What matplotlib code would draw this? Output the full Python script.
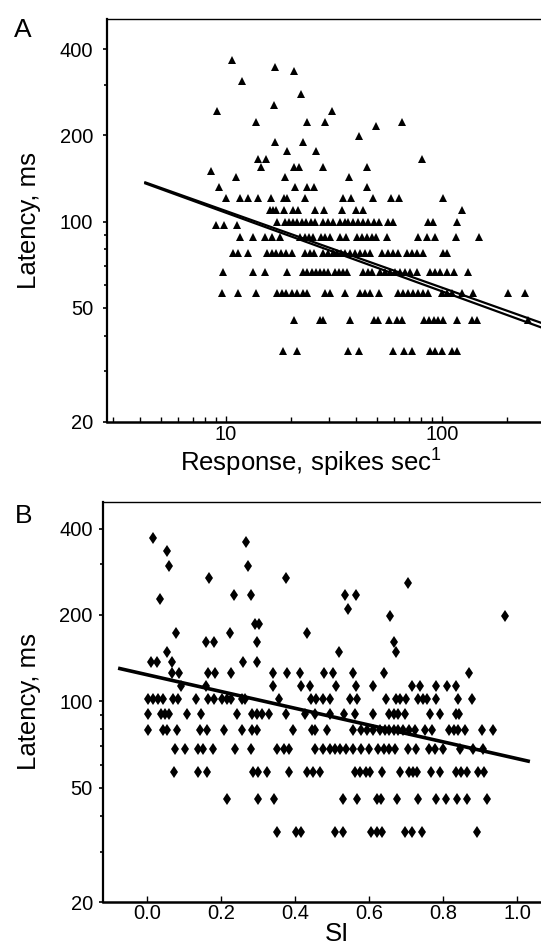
import numpy as np
import matplotlib
matplotlib.use('Agg')
import matplotlib.pyplot as plt
from matplotlib.ticker import FixedLocator, NullFormatter, LogLocator, FixedFormatter

plt.rcParams['font.family'] = ['Liberation Sans', 'DejaVu Sans']
plt.rcParams['mathtext.fontset'] = 'custom'
plt.rcParams['mathtext.rm'] = 'Liberation Sans'

# ---- panel A: latency (ms) rows and the responses (spikes/s) on each row
a_lat = [366, 348, 336, 311, 278, 255, 244, 222, 215, 199, 189, 177, 166, 155,
         150, 143, 132, 121, 110, 100, 97, 88.6, 77.5, 66.9, 56.2, 45.3, 35.4]
a_resp = [
    [10.7], [16.9], [20.6], [11.8], [22.2], [16.7], [9.1, 30.9],
    [13.8, 23.7, 28.7, 65.3], [49.3], [41.3], [16.9, 22.7], [19.2, 26.1],
    [14.0, 15.3, 80.4], [14.5, 20.6, 21.8, 28.0, 44.8], [8.5],
    [11.1, 18.8, 37.0], [9.3, 20.9, 23.7, 25.6, 45.0],
    [10.0, 11.6, 12.6, 14.0, 16.1, 18.6, 19.2, 23.2, 34.9, 37.9, 48.1, 57.7, 63.2, 101],
    [15.9, 16.5, 17.0, 18.6, 20.3, 21.6, 25.8, 28.4, 34.3, 39.9, 42.9, 124],
    [17.2, 18.8, 19.6, 20.4, 21.3, 22.4, 23.5, 24.7, 25.8, 28.1, 29.6, 31.2, 33.7,
     35.6, 36.8, 38.8, 41.0, 43.2, 45.6, 48.4, 50.8, 56.4, 59.5, 86.2, 90.4, 116.6],
    [9.0, 9.8, 11.2],
    [11.6, 13.3, 15.2, 16.3, 17.8, 22.0, 23.2, 24.2, 25.3, 27.4, 28.7, 30.3, 33.7,
     35.9, 40.3, 42.6, 44.9, 47.2, 49.4, 55.4, 77.6, 84.7, 92.5, 115.5, 148.6],
    [10.8, 11.4, 12.6, 15.5, 16.3, 17.0, 18.0, 19.0, 20.2, 23.2, 24.5, 25.6, 28.1,
     29.7, 31.3, 32.6, 34.1, 35.6, 37.5, 39.6, 41.7, 44.0, 46.4, 52.7, 56.2, 59.3,
     62.6, 69.0, 72.9, 76.6, 81.3, 101, 105.4],
    [9.7, 13.3, 15.2, 19.2, 22.7, 23.7, 25.0, 26.1, 27.2, 28.4, 29.7, 32.0, 33.4,
     34.8, 36.3, 43.1, 45.4, 47.4, 51.6, 54.5, 57.3, 60.6, 63.9, 67.6, 71.3, 76.6,
     87.8, 92.5, 97.8, 105.4, 113.6, 131.6],
    [9.55, 11.4, 13.8, 17.2, 18.2, 19.0, 20.2, 21.3, 22.7, 23.7, 28.7, 30.3, 35.6,
     41.7, 44.0, 46.4, 51.1, 62.6, 66.2, 69.8, 73.7, 77.4, 81.3, 86.0, 100, 105.4,
     111, 123.8, 138.6, 202, 241],
    [20.6, 27.2, 28.1, 37.5, 48.4, 50.6, 56.8, 61.9, 65.5, 82.2, 86.9, 91.6, 95.6,
     101, 117, 137.6, 145, 250],
    [18.4, 21.3, 36.7, 41.3, 59.3, 66.9, 72.9, 87.8, 92.5, 100, 111, 117],
]
# two fitted lines (log-log)
fit_a_x = [4.18, 290]
fit_a_hi = [137.5, 44.2]
fit_a_lo = [136.4, 42.6]

# ---- panel B: latency (ms) rows and SI values on each row
b_lat = [372, 360, 334, 296, 270, 259, 234, 228, 209, 198, 186, 173, 161, 149,
         137, 125.4, 113.5, 102.3, 90.7, 79.8, 68.2, 57.0, 45.7, 35.1]
b_si = [
    [0.015], [0.268], [0.053], [0.060, 0.272], [0.167, 0.374], [0.705],
    [0.235, 0.281, 0.535, 0.564], [0.035], [0.542], [0.657, 0.968],
    [0.291, 0.302], [0.077, 0.224, 0.433], [0.159, 0.181, 0.296, 0.668],
    [0.054, 0.519, 0.673], [0.010, 0.025, 0.068, 0.260, 0.296],
    [0.067, 0.087, 0.163, 0.184, 0.227, 0.339, 0.377, 0.413, 0.479, 0.501, 0.557,
     0.640, 0.869],
    [0.091, 0.159, 0.339, 0.416, 0.440, 0.511, 0.565, 0.611, 0.715, 0.738, 0.781,
     0.810, 0.834],
    [0.003, 0.016, 0.030, 0.043, 0.070, 0.084, 0.133, 0.163, 0.181, 0.202, 0.215,
     0.226, 0.255, 0.264, 0.357, 0.443, 0.455, 0.475, 0.494, 0.548, 0.568, 0.647,
     0.672, 0.684, 0.700, 0.732, 0.746, 0.757, 0.781, 0.840, 0.877],
    [0.003, 0.037, 0.049, 0.059, 0.108, 0.144, 0.243, 0.283, 0.297, 0.310, 0.328,
     0.376, 0.427, 0.453, 0.494, 0.532, 0.562, 0.611, 0.655, 0.666, 0.678, 0.697,
     0.765, 0.791, 0.834, 0.843],
    [0.003, 0.043, 0.054, 0.080, 0.143, 0.161, 0.208, 0.257, 0.282, 0.296, 0.395,
     0.445, 0.454, 0.487, 0.557, 0.577, 0.595, 0.610, 0.630, 0.643, 0.655, 0.667,
     0.679, 0.693, 0.709, 0.724, 0.751, 0.769, 0.817, 0.830, 0.841, 0.860, 0.905,
     0.936],
    [0.075, 0.103, 0.138, 0.151, 0.179, 0.237, 0.280, 0.351, 0.369, 0.384, 0.454,
     0.475, 0.493, 0.509, 0.520, 0.538, 0.557, 0.578, 0.600, 0.623, 0.641, 0.655,
     0.670, 0.704, 0.727, 0.761, 0.778, 0.799, 0.846, 0.880, 0.909],
    [0.071, 0.137, 0.162, 0.285, 0.300, 0.323, 0.383, 0.433, 0.448, 0.467, 0.562,
     0.575, 0.592, 0.603, 0.636, 0.684, 0.708, 0.719, 0.730, 0.768, 0.792, 0.835,
     0.849, 0.865, 0.895, 0.911],
    [0.215, 0.300, 0.343, 0.529, 0.567, 0.621, 0.632, 0.676, 0.731, 0.781, 0.808,
     0.837, 0.864, 0.920],
    [0.350, 0.402, 0.415, 0.508, 0.530, 0.604, 0.621, 0.634, 0.697, 0.715, 0.742,
     0.891],
]
fit_b_x = [-0.079, 1.035]
fit_b_y = [130.6, 61.8]

lat_ticks = [20, 50, 100, 200, 400]
lat_minor = [30, 40, 60, 70, 80, 90, 300]
si_ticks = [0.0, 0.2, 0.4, 0.6, 0.8, 1.0]

xa = np.concatenate([np.array(r, float) for r in a_resp])
ya = np.concatenate([[l] * len(r) for l, r in zip(a_lat, a_resp)])
xb = np.concatenate([np.array(r, float) for r in b_si])
yb = np.concatenate([[l] * len(r) for l, r in zip(b_lat, b_si)])

fig = plt.figure(figsize=(5.41, 9.46), dpi=100)
ax1 = fig.add_axes([0.1978, 0.5542, 0.8022, 0.4257])
ax2 = fig.add_axes([0.1913, 0.0462, 0.8087, 0.4235])

# panel A
ax1.plot(xa, ya, '^', color='black', ms=5.8, mew=0, clip_on=False)
ax1.plot(fit_a_x, fit_a_hi, color='black', lw=1.6, solid_capstyle='butt')
ax1.plot(fit_a_x, fit_a_lo, color='black', lw=1.6, solid_capstyle='butt')
ax1.set_xscale('log')
ax1.set_yscale('log')
ax1.set_xlim(2.81, 287)
ax1.set_ylim(20, 510)
ax1.xaxis.set_major_locator(FixedLocator([10, 100]))
ax1.xaxis.set_major_formatter(FixedFormatter(['10', '100']))
ax1.xaxis.set_minor_locator(LogLocator(base=10, subs=np.arange(2, 10)))
ax1.xaxis.set_minor_formatter(NullFormatter())
ax1.set_xlabel(r'Response, spikes sec$^{1}$', fontsize=18.5)
ax1.xaxis.label.set_va('baseline')
ax1.xaxis.set_label_coords(0.470, -0.122)
ax1.set_ylabel('Latency, ms', fontsize=18.5)
ax1.yaxis.label.set_va('baseline')
ax1.yaxis.set_label_coords(-0.1645, 0.5)
ax1.tick_params(axis='x', which='both', direction='in', labelsize=14.5, pad=2)
ax1.tick_params(axis='x', which='major', length=4, width=1)
ax1.tick_params(axis='x', which='minor', length=3.5, width=1)
ax1.tick_params(axis='y', which='both', direction='out', labelsize=14.5, pad=7)

# panel B
ax2.plot(xb, yb, 'd', color='black', ms=6.5, mew=0, clip_on=False)
ax2.plot(fit_b_x, fit_b_y, color='black', lw=2.6, solid_capstyle='butt')
ax2.set_yscale('log')
ax2.set_xlim(-0.1185, 1.065)
ax2.set_ylim(20, 496)
ax2.set_xticks(si_ticks)
ax2.set_xticklabels(['%.1f' % t for t in si_ticks])
ax2.set_xlabel('SI', fontsize=18.5)
ax2.xaxis.label.set_va('baseline')
ax2.xaxis.set_label_coords(0.534, -0.096)
ax2.set_ylabel('Latency, ms', fontsize=18.5)
ax2.yaxis.label.set_va('baseline')
ax2.yaxis.set_label_coords(-0.155, 0.5)
ax2.tick_params(axis='x', which='major', direction='in', length=4, width=1,
                labelsize=14.5, pad=1.2)
ax2.tick_params(axis='y', which='both', direction='out', labelsize=14.5, pad=4.7)

for ax in (ax1, ax2):
    ax.yaxis.set_major_locator(FixedLocator(lat_ticks))
    ax.yaxis.set_major_formatter(FixedFormatter([str(t) for t in lat_ticks]))
    ax.yaxis.set_minor_locator(FixedLocator(lat_minor))
    ax.yaxis.set_minor_formatter(NullFormatter())
    ax.tick_params(axis='y', which='major', length=3, width=1.2)
    ax.tick_params(axis='y', which='minor', length=2.5, width=1.2)
    ax.spines['right'].set_visible(False)
    ax.spines['left'].set_linewidth(1.6)
    ax.spines['bottom'].set_linewidth(1.8)
    ax.spines['top'].set_linewidth(1.0)

fig.text(0.0416, 0.9609, 'A', fontsize=19, ha='center', va='baseline')
fig.text(0.0444, 0.4471, 'B', fontsize=19, ha='center', va='baseline')

fig.savefig('out.png', dpi=100)
